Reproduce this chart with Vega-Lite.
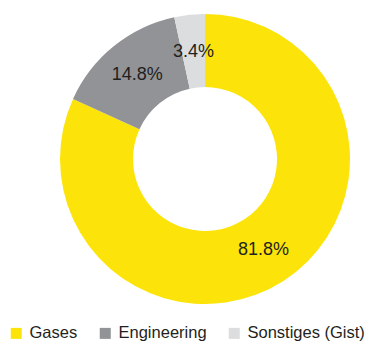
{
  "$schema": "https://vega.github.io/schema/vega-lite/v6.json",
  "width": 338,
  "height": 318,
  "padding": {"left": 36, "top": 0, "right": 0, "bottom": 26},
  "autosize": {"type": "none"},
  "background": "white",
  "data": {
    "values": [
      {"segment": "Gases", "share": 81.8, "label": "81.8%", "rank": 1},
      {"segment": "Engineering", "share": 14.8, "label": "14.8%", "rank": 2},
      {"segment": "Sonstiges (Gist)", "share": 3.4, "label": "3.4%", "rank": 3}
    ]
  },
  "encoding": {
    "theta": {"field": "share", "type": "quantitative", "stack": true},
    "order": {"field": "rank", "type": "quantitative"}
  },
  "layer": [
    {
      "mark": {"type": "arc", "outerRadius": 145, "innerRadius": 72},
      "encoding": {
        "color": {
          "field": "segment",
          "type": "nominal",
          "sort": ["Gases", "Engineering", "Sonstiges (Gist)"],
          "scale": {
            "domain": ["Gases", "Engineering", "Sonstiges (Gist)"],
            "range": ["#FCE40A", "#929396", "#DCDDDF"]
          },
          "legend": {
            "orient": "none",
            "legendX": -28,
            "legendY": 325,
            "direction": "horizontal",
            "title": null,
            "symbolType": "square",
            "symbolSize": 121,
            "symbolStrokeWidth": 0,
            "labelFontSize": 16.5,
            "labelFont": "Liberation Sans",
            "labelColor": "#231f20",
            "labelOffset": 5,
            "columnPadding": 19,
            "padding": 0
          }
        }
      }
    },
    {
      "mark": {
        "type": "text",
        "radius": 108,
        "fontSize": 18,
        "font": "Liberation Sans",
        "color": "#231f20"
      },
      "encoding": {
        "text": {"field": "label", "type": "nominal"},
        "detail": {"field": "segment", "type": "nominal"}
      }
    }
  ],
  "config": {"view": {"stroke": null}}
}
